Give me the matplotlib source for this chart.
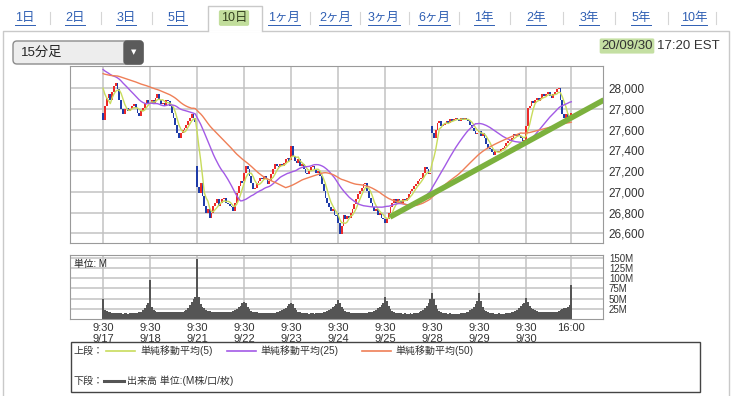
import numpy as np
import pandas as pd
import matplotlib
matplotlib.use("Agg")
import matplotlib.pyplot as plt
from matplotlib.patches import Rectangle, FancyBboxPatch

plt.rcParams['font.family'] = ['Liberation Sans', 'Noto Sans CJK JP', 'DejaVu Sans']

# ---- data (15 min bars, 26 per day) ----
days = ['9/17', '9/18', '9/21', '9/22', '9/23', '9/24', '9/25', '9/28', '9/29', '9/30']
day_opens = [27760, 27850, 27250, 27100, 27310, 26800, 26740, 27640, 27580, 27480]

# closes before the chart window (only used for the moving averages)
pre_closes = [28120, 28110, 28100, 28090, 28080, 28070, 28090, 28100, 28110, 28100, 28090, 28080,
              28070, 28080, 28090, 28100, 28110, 28120, 28110, 28100, 28090, 28100, 28110,
              28150, 28170, 28190, 28180, 28200, 28210, 28190, 28200, 28220, 28230, 28210, 28220,
              28240, 28230, 28250, 28260, 28240, 28270, 28300, 28280, 28230, 28180, 28120, 28090,
              28060, 28040]

close_0917 = [27690, 27830, 27910, 27940, 27890, 27960, 28020, 28050, 27990, 27890, 27800, 27750, 27795,
              27810, 27780, 27795, 27830, 27845, 27810, 27765, 27730, 27780, 27810, 27860, 27890, 27845]
close_0918 = [27860, 27890, 27845, 27910, 27940, 27890, 27845, 27860, 27830, 27890, 27875, 27830, 27765,
              27715, 27650, 27570, 27520, 27570, 27600, 27620, 27650, 27685, 27715, 27750, 27715, 27670]
close_0921 = [27050, 26990, 27090, 26960, 26865, 26800, 26830, 26750, 26800, 26865, 26895, 26930, 26865,
              26895, 26930, 26945, 26895, 26880, 26865, 26850, 26815, 26895, 26990, 27055, 27105, 27090]
close_0922 = [27185, 27250, 27220, 27155, 27090, 27025, 27040, 27090, 27105, 27135, 27120, 27155, 27120,
              27075, 27105, 27170, 27220, 27265, 27250, 27235, 27265, 27250, 27280, 27315, 27330, 27300]
close_0923 = [27440, 27345, 27300, 27280, 27315, 27250, 27265, 27220, 27185, 27170, 27200, 27235, 27250,
              27220, 27185, 27200, 27155, 27075, 27010, 26945, 26895, 26850, 26815, 26830, 26780, 26765]
close_0924 = [26700, 26590, 26670, 26780, 26735, 26765, 26750, 26800, 26830, 26880, 26930, 26975, 27010,
              27040, 27075, 27090, 27010, 26945, 26895, 26850, 26815, 26830, 26780, 26800, 26750, 26735]
close_0925 = [26700, 26735, 26800, 26850, 26895, 26930, 26895, 26930, 26910, 26895, 26930, 26910, 26945,
              26975, 27010, 27025, 27055, 27075, 27105, 27120, 27135, 27185, 27235, 27220, 27170, 27185]
close_0928 = [27570, 27520, 27600, 27665, 27685, 27635, 27650, 27665, 27685, 27665, 27700, 27685, 27700,
              27715, 27700, 27685, 27710, 27695, 27710, 27700, 27685, 27650, 27620, 27590, 27555, 27570]
close_0929 = [27590, 27540, 27570, 27520, 27460, 27425, 27410, 27380, 27360, 27395, 27380, 27395, 27410,
              27425, 27440, 27475, 27490, 27505, 27520, 27555, 27540, 27555, 27540, 27520, 27490, 27505]
close_0930 = [27635, 27810, 27830, 27875, 27860, 27890, 27910, 27875, 27910, 27940, 27925, 27940, 27960,
              27925, 27910, 27940, 27960, 27990, 28005, 27890, 27750, 27715, 27750, 27685, 27730, 27765]

vol_0917 = [48, 22, 20, 17, 16, 15, 15, 14, 14, 15, 14, 13, 14, 14, 13, 14, 14, 15, 14, 15, 16, 18, 22, 26, 34, 40]
vol_0918 = [95, 30, 22, 19, 18, 17, 18, 17, 16, 17, 16, 17, 18, 17, 16, 17, 18, 17, 18, 19, 22, 26, 34, 42, 48, 55]
vol_0921 = [146, 55, 38, 30, 26, 22, 20, 19, 18, 18, 17, 18, 17, 17, 16, 17, 17, 16, 17, 18, 20, 22, 25, 29, 33, 40]
vol_0922 = [42, 40, 30, 24, 20, 17, 16, 16, 15, 15, 14, 15, 14, 14, 15, 14, 15, 15, 16, 17, 19, 21, 24, 28, 32, 36]
vol_0923 = [40, 38, 28, 22, 18, 16, 15, 15, 14, 14, 13, 14, 14, 13, 14, 15, 14, 15, 16, 18, 20, 22, 25, 29, 33, 37]
vol_0924 = [47, 40, 30, 24, 19, 17, 16, 15, 15, 14, 15, 14, 14, 15, 14, 15, 15, 16, 17, 18, 20, 23, 26, 30, 35, 40]
vol_0925 = [55, 45, 32, 24, 19, 16, 15, 15, 14, 14, 13, 14, 13, 13, 14, 13, 14, 15, 15, 17, 19, 22, 26, 32, 40, 50]
vol_0928 = [64, 50, 35, 25, 20, 17, 15, 14, 14, 13, 14, 13, 13, 12, 13, 13, 14, 14, 15, 16, 18, 21, 25, 30, 37, 45]
vol_0929 = [63, 45, 30, 23, 19, 16, 15, 14, 14, 13, 13, 14, 13, 13, 13, 14, 14, 15, 16, 17, 19, 22, 26, 31, 36, 40]
vol_0930 = [51, 42, 32, 28, 24, 21, 19, 18, 17, 17, 16, 16, 17, 16, 16, 17, 17, 18, 19, 21, 24, 26, 28, 30, 34, 83]

# hand-drawn trend line (bar index, price)
trend_x = [158.7, 277.0]
trend_y = [26757, 27887]

price_ticks = [26600, 26800, 27000, 27200, 27400, 27600, 27800, 28000]
vol_ticks = [25, 50, 75, 100, 125, 150]

tab_labels = ['1日', '2日', '3日', '5日', '10日', '1ヶ月', '2ヶ月', '3ヶ月', '6ヶ月', '1年', '2年', '3年', '5年', '10年']
tab_x = [25, 75, 126, 177, 234, 284, 335, 384, 434, 484, 536, 589, 641, 694]
selected_tab = '10日'

# ---- prepare ----
day_closes = [close_0917, close_0918, close_0921, close_0922, close_0923,
              close_0924, close_0925, close_0928, close_0929, close_0930]
closes = np.array(sum(day_closes, []), dtype=float)
opens = np.r_[np.nan, closes[:-1]]
for d, o in enumerate(day_opens):
    opens[d * 26] = o
volume = np.array(vol_0917 + vol_0918 + vol_0921 + vol_0922 + vol_0923 +
                  vol_0924 + vol_0925 + vol_0928 + vol_0929 + vol_0930, dtype=float)
idx = np.arange(len(closes))

full = pd.Series(np.r_[pre_closes, closes])
n_pre = len(pre_closes)
ma5 = full.rolling(5).mean().values[n_pre:]
ma25 = full.rolling(25).mean().values[n_pre:]
ma50 = full.rolling(50).mean().values[n_pre:]

W, H = 734, 396
fig = plt.figure(figsize=(W / 100, H / 100), dpi=100)
fig.patch.set_facecolor('white')

# background layer in pixel coords for page furniture
bg = fig.add_axes([0, 0, 1, 1], zorder=0)
bg.set_xlim(0, W)
bg.set_ylim(H, 0)
bg.axis('off')

frame_c = '#c9c9c9'
bg.plot([3, 3, 729, 729], [H, 31, 31, H], color=frame_c, lw=1)
bg.plot([209, 261], [31, 31], color='white', lw=2)
bg.plot([208, 208, 262, 262], [31, 6, 6, 31], color=frame_c, lw=1)

renderer = fig.canvas.get_renderer()
for i, (lab, cx) in enumerate(zip(tab_labels, tab_x)):
    if lab == selected_tab:
        bg.text(cx, 18, lab, ha='center', va='center', fontsize=9, color='#33401f',
                bbox=dict(boxstyle='round,pad=0.15', fc='#c2de9c', ec='none'))
    else:
        t = bg.text(cx, 18, lab, ha='center', va='center', fontsize=9, color='#2f5fb3')
        bb = t.get_window_extent(renderer).transformed(bg.transData.inverted())
        bg.plot([bb.x0, bb.x1], [24.5, 24.5], color='#2f5fb3', lw=0.7)
    # separators
    if i < len(tab_labels) - 1:
        nxt = tab_labels[i + 1]
        if lab != selected_tab and nxt != selected_tab:
            sx = (cx + tab_x[i + 1]) / 2
            bg.plot([sx, sx], [12, 24], color='#d5d5d5', lw=0.8)
bg.plot([716, 716], [12, 24], color='#d5d5d5', lw=0.8)

# dropdown
bg.add_patch(FancyBboxPatch((13, 41), 130, 23, boxstyle='round,pad=0,rounding_size=4',
                            fc='#ededed', ec='#8c8c8c', lw=1))
bg.add_patch(FancyBboxPatch((124, 41), 19, 23, boxstyle='round,pad=0,rounding_size=3',
                            fc='#5b5b5b', ec='#5b5b5b', lw=1))
bg.text(133.5, 52.5, '▼', ha='center', va='center', fontsize=5, color='white', family='DejaVu Sans')
bg.text(21, 52.5, '15分足', ha='left', va='center', fontsize=9.5, color='#222222')

# timestamp
bg.text(627, 46, '20/09/30', ha='center', va='center', fontsize=9.5, color='#333333',
        bbox=dict(boxstyle='round,pad=0.12', fc='#c4dfa2', ec='none'))
bg.text(657, 46, '17:20 EST', ha='left', va='center', fontsize=9.5, color='#333333')

# legend box
bg.add_patch(Rectangle((71, 342), 629, 50, fill=False, ec='#444444', lw=1))
lab_kw = dict(ha='left', va='center', fontsize=7.2, color='#333333')
bg.text(73, 351, '上段：', **lab_kw)
bg.plot([106, 135], [351, 351], color='#c8dc5c', lw=1.2)
bg.text(140, 351, '単純移動平均(5)', **lab_kw)
bg.plot([227, 256], [351, 351], color='#a35ae6', lw=1.2)
bg.text(260, 351, '単純移動平均(25)', **lab_kw)
bg.plot([362, 391], [351, 351], color='#ef7f57', lw=1.2)
bg.text(395, 351, '単純移動平均(50)', **lab_kw)
bg.text(73, 381, '下段：', **lab_kw)
bg.plot([104, 124], [381, 381], color='#555555', lw=2.2)
bg.text(127, 381, '出来高 単位:(M株/口/枚)', **lab_kw)

# ---- price panel ----
left, width = 70 / W, 533.3 / W
ax = fig.add_axes([left, 1 - 243.3 / H, width, 177.3 / H], zorder=2)
xlim = (-18.3, 276.7)
grid_x = [d * 26 for d in range(len(days))] + [259]

up = closes >= opens
colors = np.where(up, '#ec2a2a', '#1f3ca8')
bottoms = np.minimum(opens, closes)
heights = np.maximum(np.abs(closes - opens), 12)
ax.bar(idx, heights, bottom=bottoms, width=1.0, color=colors, lw=0, zorder=2)
ax.plot(idx, ma5, color='#c8dc5c', lw=1, zorder=3)
ax.plot(idx, ma25, color='#a35ae6', lw=1, zorder=3)
ax.plot(idx, ma50, color='#ef7f57', lw=1, zorder=3)
ax.plot(trend_x, trend_y, color='#7cb13e', lw=4, solid_capstyle='butt', zorder=4)

ax.set_xlim(*xlim)
ax.set_ylim(26503, 28215)
ax.set_xticks(grid_x)
ax.set_xticklabels([])
ax.set_yticks(price_ticks)
ax.set_yticklabels([f'{v:,}' for v in price_ticks])
ax.yaxis.tick_right()
ax.tick_params(length=0, labelsize=8.5, pad=4, labelcolor='#333333')
ax.grid(color='#c2c2c2', lw=1.1, zorder=0)
ax.set_axisbelow(True)
for s in ax.spines.values():
    s.set_color('#9a9a9a')

# ---- volume panel ----
axv = fig.add_axes([left, 1 - 319 / H, width, 64 / H], zorder=2)
axv.bar(idx, volume, width=1.0, color='#555555', lw=0, zorder=2)
axv.set_xlim(*xlim)
axv.set_ylim(0, 157)
axv.set_yticks(vol_ticks)
axv.set_yticklabels([f'{v}M' for v in vol_ticks])
axv.yaxis.tick_right()
axv.set_xticks(grid_x)
axv.set_xticklabels([f'9:30\n{d}' for d in days] + ['16:00'], linespacing=1.05)
axv.tick_params(axis='y', length=0, labelsize=7, pad=4, labelcolor='#333333')
axv.tick_params(axis='x', length=0, labelsize=8, pad=3, labelcolor='#333333')
axv.grid(color='#c2c2c2', lw=1.1, zorder=0)
axv.set_axisbelow(True)
for s in axv.spines.values():
    s.set_color('#9a9a9a')
axv.text(0.008, 0.93, '単位: M', transform=axv.transAxes, ha='left', va='top', fontsize=7, color='#222222')

fig.savefig('out.png', dpi=100)
